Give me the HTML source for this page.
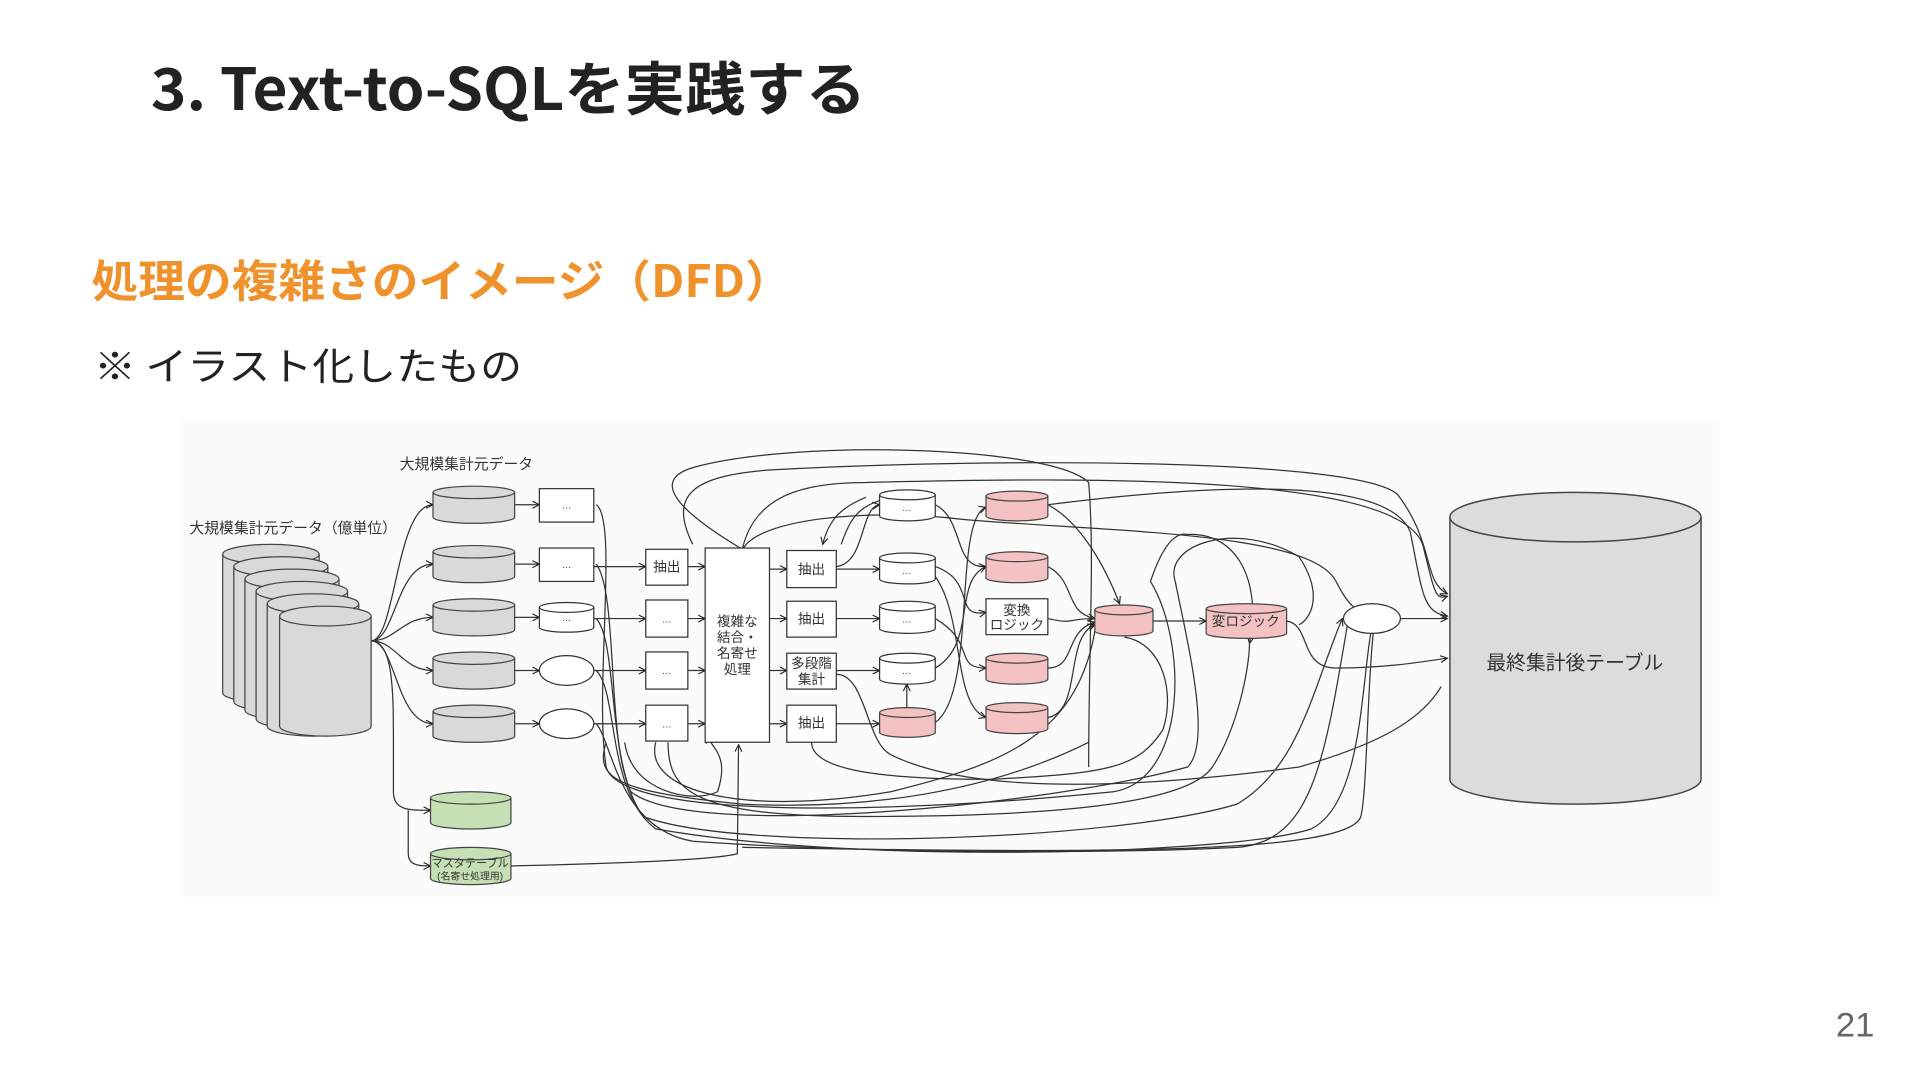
<!DOCTYPE html>
<html><head><meta charset="utf-8"><style>
html,body{margin:0;padding:0;background:#fff;width:1920px;height:1080px;overflow:hidden}
svg{display:block}
</style></head><body>
<svg width="1920" height="1080" viewBox="0 0 1552 873" xmlns="http://www.w3.org/2000/svg" font-family="'Liberation Sans','Noto Sans CJK JP',sans-serif">
<defs>
<marker id="a" viewBox="0 0 10 10" refX="9" refY="5" markerWidth="7" markerHeight="7" orient="auto-start-reverse"><path d="M1,1 L9,5 L1,9" fill="none" stroke="#222" stroke-width="1.3"/></marker>
</defs>
<rect width="1552" height="873" fill="#fff"/>
<text x="122" y="89" font-size="47" font-weight="bold" fill="#222" font-family="'Noto Sans CJK JP',sans-serif" textLength="578" lengthAdjust="spacingAndGlyphs">3. Text-to-SQLを実践する</text>
<text x="74" y="240" font-size="36" font-weight="bold" fill="#f0922b" font-family="'Noto Sans CJK JP',sans-serif" textLength="566" lengthAdjust="spacingAndGlyphs">処理の複雑さのイメージ（DFD）</text>
<text x="76" y="307" font-size="31" fill="#222" font-family="'Noto Sans CJK JP',sans-serif" textLength="346" lengthAdjust="spacingAndGlyphs">※ イラスト化したもの</text>
<text x="1484" y="838" font-size="28" fill="#666">21</text>

<rect x="145" y="340" width="1245" height="385" fill="#fbfbfb"/>

<g stroke="#333" stroke-width="1" fill="none">
<path d="M600,444 C560,420 520,390 560,378 C640,355 850,360 880,390 C885,450 880,520 880,620" />
<path d="M560,440 C540,400 560,385 620,380 C800,370 1100,370 1130,400 C1160,440 1150,470 1170,480" marker-end="url(#a)"/>
<path d="M600,444 C610,400 650,390 700,390 C900,385 1130,385 1150,440 C1160,480 1160,485 1170,482" marker-end="url(#a)"/>
<path d="M847,408 C950,395 1120,380 1140,430 C1150,480 1150,495 1170,498" marker-end="url(#a)"/>
<path d="M600,445 C610,420 700,410 780,420 C900,430 1060,430 1080,470 C1090,490 1100,500 1108,488" marker-end="url(#a)"/>
<path d="M680,440 C690,410 700,405 740,398" />
<path d="M665,440 C670,420 680,410 700,402" marker-start="url(#a)"/>
<path d="M847,408 C870,420 890,450 905,488" marker-end="url(#a)"/>
<path d="M756,408 C780,420 770,460 797,458" marker-end="url(#a)"/>
<path d="M756,458 C790,470 770,500 797,495" marker-end="url(#a)"/>
<path d="M756,500 C790,520 770,540 797,540" marker-end="url(#a)"/>
<path d="M756,540 C790,520 770,470 797,458" marker-end="url(#a)"/>
<path d="M756,584 C790,560 770,420 797,410" marker-end="url(#a)"/>
<path d="M756,466 C780,500 770,570 797,580" marker-end="url(#a)"/>
<path d="M847,458 C870,470 860,495 885,500" marker-end="url(#a)"/>
<path d="M847,540 C870,540 860,510 885,503" marker-end="url(#a)"/>
<path d="M847,580 C875,575 860,515 885,505" marker-end="url(#a)"/>
<path d="M847,500 C870,505 860,500 885,500"/>
<path d="M676,545 C700,545 700,600 720,610 C780,640 900,640 1050,620 C1120,600 1150,580 1165,555"/>
<path d="M482,408 C500,420 480,560 490,620 C500,660 700,660 900,640 C960,630 960,520 930,470 C940,440 950,430 960,432 C1000,430 1020,470 1010,520" marker-end="url(#a)"/>
<path d="M482,456 C500,480 490,600 510,640 C560,680 850,650 960,620 C980,600 960,520 950,470 C940,440 1000,420 1050,450 C1070,480 1060,500 1050,505"/>
<path d="M482,500 C500,520 490,620 520,660 C600,690 900,680 1000,650 C1050,620 1060,560 1085,500" marker-end="url(#a)"/>
<path d="M482,542 C500,560 490,640 530,670 C700,700 1000,690 1060,670 C1100,650 1100,560 1108,512"/>
<path d="M482,585 C495,600 500,670 560,680 C700,690 900,690 1000,685 C1060,680 1070,620 1090,500" />
<path d="M540,600 C540,640 560,660 700,660 C850,660 960,650 980,620 C1000,590 1010,540 1010,520"/>
<path d="M656,600 C656,620 700,630 800,630 C900,625 920,620 940,590 C950,560 940,520 909,515"/>
<path d="M1040,502 C1060,505 1050,540 1080,540 C1120,540 1150,535 1170,532" marker-end="url(#a)"/>
<path d="M1132,500 L1170,500" marker-end="url(#a)"/>
<path d="M1110,512 C1105,560 1105,640 1100,660 C1090,690 900,690 600,685"/>
<path d="M530,600 C520,640 600,660 720,640 C800,620 870,600 885,510"/>
<path d="M490,600 C480,630 500,640 600,650 C700,655 800,640 880,600"/>
<path d="M412,700 C500,698 580,695 596,690 L597,602" marker-end="url(#a)"/>
<path d="M505,600 C510,640 560,650 580,640 C590,610 575,605 572,595" marker-end="url(#a)"/>
<path d="M300,518 C320,518 320,408 350,408" marker-end="url(#a)"/>
<path d="M300,518 C320,518 320,456 350,456" marker-end="url(#a)"/>
<path d="M300,518 C320,518 325,499 350,499" marker-end="url(#a)"/>
<path d="M300,518 C320,518 325,542 350,542" marker-end="url(#a)"/>
<path d="M300,518 C320,518 320,585 350,585" marker-end="url(#a)"/>
<path d="M300,518 C318,518 318,560 318,600 L318,640 C318,655 330,655 348,655" marker-end="url(#a)"/>
<path d="M330,655 L330,690 C330,700 340,700 348,700" marker-end="url(#a)"/>
<path d="M416,408 L436,408" marker-end="url(#a)"/><path d="M416,456 L436,456" marker-end="url(#a)"/><path d="M416,499 L436,499" marker-end="url(#a)"/><path d="M416,542 L436,542" marker-end="url(#a)"/><path d="M416,585 L436,585" marker-end="url(#a)"/>
<path d="M480,458 L522,458" marker-end="url(#a)"/><path d="M480,500 L522,500" marker-end="url(#a)"/><path d="M480,542 L522,542" marker-end="url(#a)"/><path d="M480,585 L522,585" marker-end="url(#a)"/>
<path d="M556,458 L570,458" marker-end="url(#a)"/><path d="M556,500 L570,500" marker-end="url(#a)"/><path d="M556,542 L570,542" marker-end="url(#a)"/><path d="M556,585 L570,585" marker-end="url(#a)"/>
<path d="M622,460 L636,460" marker-end="url(#a)"/><path d="M622,500 L636,500" marker-end="url(#a)"/><path d="M622,542 L636,542" marker-end="url(#a)"/><path d="M622,585 L636,585" marker-end="url(#a)"/>
<path d="M676,460 L711,460" marker-end="url(#a)"/><path d="M676,500 L711,500" marker-end="url(#a)"/><path d="M676,542 L711,542" marker-end="url(#a)"/><path d="M676,585 L711,585" marker-end="url(#a)"/>
<path d="M676,458 C700,455 695,410 711,408" marker-end="url(#a)"/>
<path d="M733,572 L733,553" marker-end="url(#a)"/>
<path d="M932,502 L975,502" marker-end="url(#a)"/>
</g>

<g stroke="#444" stroke-width="1" fill="#d9d9d9">
<path d="M180,448 v112 a39,8 0 0 0 78,0 v-112"/><ellipse cx="219" cy="448" rx="39" ry="8"/>
<path d="M189,458 v109 a38,8 0 0 0 76,0 v-109"/><ellipse cx="227" cy="458" rx="38" ry="8"/>
<path d="M198,468 v106 a38,8 0 0 0 76,0 v-106"/><ellipse cx="236" cy="468" rx="38" ry="8"/>
<path d="M207,478 v103 a37,8 0 0 0 74,0 v-103"/><ellipse cx="244" cy="478" rx="37" ry="8"/>
<path d="M216,488 v99 a37,8 0 0 0 74,0 v-99"/><ellipse cx="253" cy="488" rx="37" ry="8"/>
<path d="M226,498 v89 a37,8 0 0 0 74,0 v-89"/><ellipse cx="263" cy="498" rx="37" ry="8"/>
</g>
<g stroke="#444" stroke-width="1" fill="#d9d9d9">
<path d="M350,398 v20 a33,5 0 0 0 66,0 v-20"/><ellipse cx="383" cy="398" rx="33" ry="5"/>
<path d="M350,446 v20 a33,5 0 0 0 66,0 v-20"/><ellipse cx="383" cy="446" rx="33" ry="5"/>
<path d="M350,489 v20 a33,5 0 0 0 66,0 v-20"/><ellipse cx="383" cy="489" rx="33" ry="5"/>
<path d="M350,532 v20 a33,5 0 0 0 66,0 v-20"/><ellipse cx="383" cy="532" rx="33" ry="5"/>
<path d="M350,575 v20 a33,5 0 0 0 66,0 v-20"/><ellipse cx="383" cy="575" rx="33" ry="5"/>
</g>
<g stroke="#444" stroke-width="1" fill="#c5e0b4">
<path d="M348,645 v20 a32,5 0 0 0 65,0 v-20"/><ellipse cx="380.5" cy="645" rx="32.5" ry="5"/>
<path d="M348,690 v20 a32,5 0 0 0 65,0 v-20"/><ellipse cx="380.5" cy="690" rx="32.5" ry="5"/>
</g>
<g stroke="#333" stroke-width="1" fill="#fff">
<rect x="436" y="395" width="44" height="27"/><rect x="436" y="443" width="44" height="27"/>
<path d="M436,491 v16 a22,4 0 0 0 44,0 v-16"/><ellipse cx="458" cy="491" rx="22" ry="4"/>
<ellipse cx="458" cy="542" rx="22" ry="12"/><ellipse cx="458" cy="585" rx="22" ry="12"/>
<rect x="522" y="444" width="34" height="29"/><rect x="522" y="485" width="34" height="30"/><rect x="522" y="527" width="34" height="30"/><rect x="522" y="570" width="34" height="29"/>
<rect x="570" y="443" width="52" height="157"/>
<rect x="636" y="445" width="40" height="30"/><rect x="636" y="486" width="40" height="29"/><rect x="636" y="528" width="40" height="29"/><rect x="636" y="570" width="40" height="30"/>
<path d="M711,400 v17 a22.5,4 0 0 0 45,0 v-17"/><ellipse cx="733.5" cy="400" rx="22.5" ry="4"/>
<path d="M711,451 v17 a22.5,4 0 0 0 45,0 v-17"/><ellipse cx="733.5" cy="451" rx="22.5" ry="4"/>
<path d="M711,490 v18 a22.5,4 0 0 0 45,0 v-18"/><ellipse cx="733.5" cy="490" rx="22.5" ry="4"/>
<path d="M711,532 v17 a22.5,4 0 0 0 45,0 v-17"/><ellipse cx="733.5" cy="532" rx="22.5" ry="4"/>
<rect x="797" y="484" width="50" height="29"/>
<ellipse cx="1109" cy="500" rx="23" ry="12"/>
</g>
<g stroke="#444" stroke-width="1" fill="#f4c2c2">
<path d="M711,576 v16 a22.5,4 0 0 0 45,0 v-16"/><ellipse cx="733.5" cy="576" rx="22.5" ry="4"/>
<path d="M797,401 v16 a25,4 0 0 0 50,0 v-16"/><ellipse cx="822" cy="401" rx="25" ry="4"/>
<path d="M797,450 v17 a25,4 0 0 0 50,0 v-17"/><ellipse cx="822" cy="450" rx="25" ry="4"/>
<path d="M797,532 v17 a25,4 0 0 0 50,0 v-17"/><ellipse cx="822" cy="532" rx="25" ry="4"/>
<path d="M797,572 v17 a25,4 0 0 0 50,0 v-17"/><ellipse cx="822" cy="572" rx="25" ry="4"/>
<path d="M885,493 v17 a23.5,4 0 0 0 47,0 v-17"/><ellipse cx="908.5" cy="493" rx="23.5" ry="4"/>
<path d="M975,492 v20 a32.5,4 0 0 0 65,0 v-20"/><ellipse cx="1007.5" cy="492" rx="32.5" ry="4"/>
</g>
<g stroke="#444" stroke-width="1.2" fill="#dcdcdc">
<path d="M1172,418 v212 a101.5,20 0 0 0 203,0 v-212"/><ellipse cx="1273.5" cy="418" rx="101.5" ry="20"/>
</g>

<g font-size="11" fill="#333" text-anchor="middle">
<text x="237" y="431" font-size="12">大規模集計元データ（億単位）</text>
<text x="377" y="379" font-size="12">大規模集計元データ</text>
<text x="458" y="411" font-size="8">…</text><text x="458" y="459" font-size="8">…</text><text x="458" y="502" font-size="8">…</text>
<text x="539" y="462">抽出</text><text x="539" y="503" font-size="8">…</text><text x="539" y="545" font-size="8">…</text><text x="539" y="588" font-size="8">…</text>
<text x="596" y="506">複雑な</text><text x="596" y="519">結合・</text><text x="596" y="532">名寄せ</text><text x="596" y="545">処理</text>
<text x="656" y="464">抽出</text><text x="656" y="504">抽出</text><text x="656" y="540">多段階</text><text x="656" y="553">集計</text><text x="656" y="588">抽出</text>
<text x="733" y="413" font-size="8">…</text><text x="733" y="464" font-size="8">…</text><text x="733" y="503" font-size="8">…</text><text x="733" y="545" font-size="8">…</text>
<text x="822" y="497">変換</text><text x="822" y="509">ロジック</text>
<text x="1007" y="506">変ロジック</text>
<text x="1273" y="541" font-size="16">最終集計後テーブル</text>
<text x="380" y="701" font-size="9">マスタテーブル</text><text x="380" y="711" font-size="8">(名寄せ処理用)</text>
</g>
</svg>
</body></html>
